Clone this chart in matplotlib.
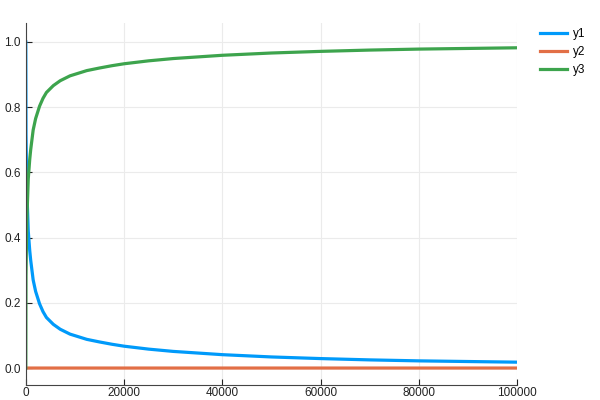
import matplotlib.pyplot as plt

plt.rcParams['font.family'] = ['Liberation Sans', 'DejaVu Sans']

# Robertson-type kinetics solution
t = [0, 40, 200, 500, 800, 1000, 1500, 2000, 2800, 3500, 4200, 5600, 7000,
     9000, 12400, 15000, 17500, 20000, 25000, 30000, 40000, 50000, 60000,
     70000, 80000, 90000, 100000]
y1 = [1.0, 0.716, 0.55, 0.42, 0.36, 0.33, 0.27, 0.235, 0.197, 0.173, 0.155,
      0.134, 0.119, 0.104, 0.088, 0.080, 0.073, 0.067, 0.058, 0.051, 0.041,
      0.034, 0.029, 0.025, 0.022, 0.020, 0.018]
y2 = [0.0, 9.2e-6, 5e-6, 3e-6, 2.4e-6, 2e-6, 1.5e-6, 1.2e-6, 9e-7, 8e-7,
      7e-7, 5.5e-7, 4.8e-7, 4e-7, 3.2e-7, 2.8e-7, 2.6e-7, 2.4e-7, 2.1e-7,
      1.9e-7, 1.6e-7, 1.3e-7, 1.1e-7, 1e-7, 9e-8, 8e-8, 7e-8]
y3 = [0.0, 0.284, 0.45, 0.58, 0.64, 0.67, 0.73, 0.765, 0.803, 0.827, 0.845,
      0.866, 0.881, 0.896, 0.912, 0.920, 0.927, 0.933, 0.942, 0.949, 0.959,
      0.966, 0.971, 0.975, 0.978, 0.980, 0.982]

colors = ['#009AFA', '#E26F46', '#3DA44D']

fig = plt.figure(figsize=(6, 4), dpi=100)
ax = fig.add_axes([0.043, 0.0375, 0.819, 0.905])

for series, name, c in zip([y1, y2, y3], ['y1', 'y2', 'y3'], colors):
    ax.plot(t, series, color=c, lw=2.3, label=name)

ax.set_xlim(0, 100000)
ax.set_ylim(-0.052, 1.058)
ax.set_xticks([0, 20000, 40000, 60000, 80000, 100000])
ax.set_xticklabels(['0', '20000', '40000', '60000', '80000', '100000'])
ax.set_yticks([0.0, 0.2, 0.4, 0.6, 0.8, 1.0])
ax.set_yticklabels(['0.0', '0.2', '0.4', '0.6', '0.8', '1.0'])
ax.tick_params(direction='in', length=4, labelsize=8.5, colors='#222222')
ax.tick_params(axis='x', pad=1.5)
ax.grid(True, color='#ebebeb', lw=0.8)
ax.set_axisbelow(True)
for s in ['top', 'right']:
    ax.spines[s].set_visible(False)
for s in ['left', 'bottom']:
    ax.spines[s].set_color('#444444')

ax.legend(loc='upper left', bbox_to_anchor=(1.025, 1.015), frameon=False,
          fontsize=8.5, handlelength=2.3, handletextpad=0.5, labelspacing=0.5)

fig.savefig('out.png', dpi=100)
